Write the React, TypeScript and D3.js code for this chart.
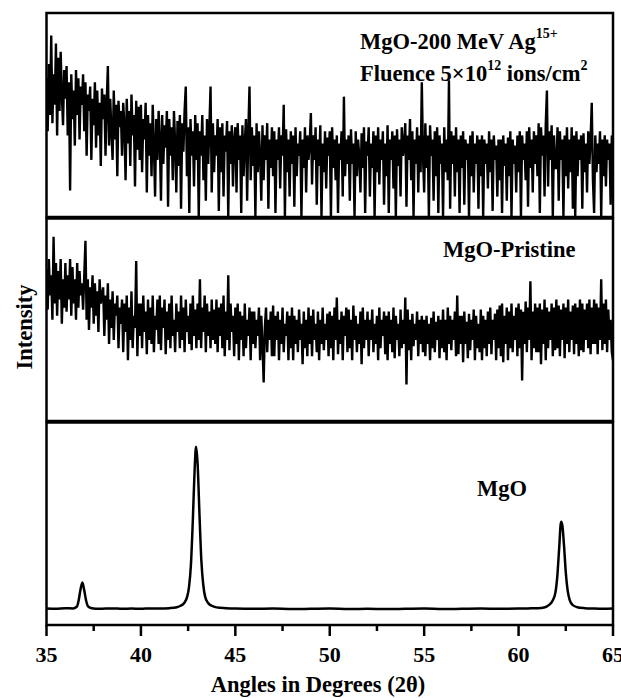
import React from "react";
import * as d3 from "d3";

// ---- Data (2θ in degrees, intensity in arbitrary units, 0–100 per panel) ----
const STEP = 0.0625;
const X_START = 35;

// MgO irradiated with 200 MeV Ag15+ (noisy, amorphous-like), 16 readings per degree
const irradiated: number[] = [
  68, 42, 75, 50, 89, 46, 70, 55, 85, 40, 78, 52, 81, 60, 45, 72,
  58, 74, 40, 66, 13, 70, 48, 62, 35, 72, 50, 68, 38, 64, 55, 70,
  42, 66, 30, 60, 52, 64, 28, 58, 45, 66, 34, 62, 40, 56, 25, 63,
  48, 60, 30, 56, 74, 35, 58, 42, 28, 62, 38, 55, 20, 57, 44, 52,
  30, 56, 45, 18, 58, 36, 52, 25, 60, 40, 50, 15, 57, 33, 54, 28,
  55, 22, 48, 38, 56, 12, 50, 30, 46, 20, 55, 35, 10, 48, 28, 52,
  38, 8, 50, 26, 45, 34, 52, 5, 48, 30, 44, 18, 52, 36, 12, 47,
  25, 50, 4, 46, 32, 52, 64, 20, 44, 2, 48, 30, 42, 15, 50, 28,
  46, 0, 42, 30, 50, 18, 40, 8, 48, 26, 44, 64, 12, 46, 22, 40,
  30, 48, 3, 44, 22, 46, 10, 40, 32, 47, 0, 42, 26, 45, 15, 38,
  44, 12, 46, 28, 40, 2, 45, 20, 36, 48, 8, 42, 64, 18, 44, 25,
  40, 0, 46, 22, 42, 30, 8, 45, 18, 40, 28, 46, 4, 38, 24, 44,
  20, 42, 2, 38, 28, 44, 14, 40, 30, 55, 0, 43, 22, 38, 10, 42,
  26, 40, 5, 44, 20, 36, 30, 42, 0, 38, 24, 44, 12, 40, 28, 36,
  51, 16, 40, 28, 44, 6, 38, 25, 45, 0, 36, 22, 42, 14, 39, 30,
  42, 0, 44, 24, 38, 18, 40, 2, 36, 28, 42, 10, 59, 20, 38, 26,
  40, 8, 43, 26, 36, 0, 42, 20, 38, 30, 12, 41, 24, 44, 2, 37,
  30, 44, 10, 36, 24, 42, 0, 40, 22, 44, 16, 38, 28, 42, 6, 36,
  20, 45, 2, 38, 28, 42, 14, 40, 0, 43, 25, 38, 10, 44, 30, 36,
  46, 5, 40, 28, 48, 18, 42, 0, 38, 26, 44, 12, 40, 22, 66, 30,
  12, 46, 24, 40, 0, 45, 30, 38, 8, 42, 20, 44, 2, 40, 26, 36,
  0, 44, 22, 38, 18, 67, 4, 42, 26, 40, 10, 44, 22, 38, 2, 40,
  24, 42, 6, 38, 28, 36, 0, 40, 20, 42, 12, 36, 26, 40, 4, 38,
  20, 40, 0, 38, 26, 36, 14, 42, 22, 38, 3, 40, 28, 35, 10, 38,
  18, 38, 2, 40, 25, 36, 8, 39, 20, 42, 0, 38, 26, 35, 12, 40,
  22, 42, 0, 40, 28, 36, 18, 42, 5, 44, 24, 38, 12, 42, 26, 40,
  20, 46, 2, 44, 30, 40, 10, 45, 62, 15, 42, 28, 45, 0, 40, 24,
  24, 44, 8, 42, 28, 38, 0, 40, 20, 44, 14, 38, 22, 44, 4, 40,
  0, 42, 20, 38, 28, 40, 4, 41, 22, 36, 12, 42, 26, 38, 56, 18,
  2, 40, 22, 36, 26, 42, 0, 38, 20, 40, 15, 38, 28, 36, 6, 40,
  20,
];

// MgO pristine, 16 readings per degree
const pristine: number[] = [
  75, 55, 80, 62, 72, 50, 91, 58, 78, 52, 74, 60, 80, 48, 70, 56,
  78, 54, 72, 60, 80, 52, 76, 58, 70, 50, 78, 56, 74, 62, 68, 55,
  72, 89, 50, 70, 45, 66, 56, 72, 48, 68, 52, 64, 44, 70, 58, 62,
  66, 42, 62, 50, 68, 38, 60, 46, 64, 40, 58, 52, 62, 36, 56, 48,
  60, 34, 58, 44, 62, 30, 56, 40, 64, 36, 52, 46, 79, 32, 58, 42,
  58, 36, 62, 44, 54, 33, 60, 40, 56, 38, 62, 34, 52, 45, 60, 38,
  62, 35, 56, 46, 60, 33, 54, 40, 58, 36, 62, 42, 50, 34, 58, 44,
  54, 36, 62, 40, 56, 34, 60, 44, 52, 38, 58, 35, 62, 42, 55, 36,
  58, 40, 70, 36, 56, 44, 62, 34, 58, 42, 54, 36, 60, 40, 55, 38,
  60, 34, 56, 42, 58, 36, 62, 32, 54, 40, 72, 35, 58, 44, 52, 32,
  56, 38, 58, 30, 54, 40, 52, 32, 58, 36, 50, 42, 56, 30, 54, 38,
  54, 36, 50, 42, 56, 30, 52, 38, 19, 46, 56, 34, 50, 40, 54, 32,
  57, 32, 52, 40, 54, 30, 50, 38, 56, 34, 48, 42, 54, 30, 52, 36,
  56, 30, 52, 38, 50, 34, 55, 40, 48, 28, 54, 36, 50, 32, 56, 38,
  52, 32, 55, 40, 48, 34, 54, 30, 50, 38, 56, 35, 48, 40, 53, 32,
  54, 36, 52, 30, 56, 40, 61, 33, 50, 38, 54, 30, 52, 42, 56, 34,
  55, 36, 50, 30, 57, 40, 52, 34, 48, 38, 54, 28, 56, 36, 50, 40,
  54, 32, 50, 40, 55, 34, 48, 38, 52, 30, 56, 36, 50, 42, 54, 33,
  52, 30, 54, 38, 50, 34, 56, 31, 52, 40, 48, 32, 55, 36, 50, 38,
  61, 18, 55, 35, 50, 30, 53, 37, 48, 40, 54, 32, 50, 38, 52, 34,
  50, 32, 52, 38, 48, 30, 51, 36, 54, 34, 49, 40, 52, 31, 50, 36,
  55, 34, 50, 30, 56, 38, 52, 35, 50, 40, 54, 32, 62, 33, 52, 38,
  52, 29, 54, 38, 49, 31, 53, 35, 50, 40, 55, 30, 52, 36, 48, 34,
  55, 30, 52, 36, 50, 32, 54, 38, 56, 33, 50, 40, 53, 30, 55, 36,
  57, 32, 58, 29, 52, 38, 56, 30, 54, 36, 58, 34, 52, 40, 56, 32,
  58, 36, 55, 20, 54, 38, 59, 34, 56, 40, 69, 30, 54, 36, 58, 34,
  56, 34, 58, 28, 55, 38, 60, 30, 56, 36, 54, 40, 58, 32, 56, 35,
  60, 36, 57, 32, 55, 40, 58, 31, 56, 38, 60, 34, 54, 40, 57, 33,
  58, 38, 56, 32, 60, 35, 58, 34, 55, 40, 58, 36, 60, 33, 56, 38,
  60, 38, 58, 33, 56, 40, 70, 35, 58, 38, 60, 34, 55, 40, 50, 34,
  30,
];

// MgO reference (crystalline)
const mgoAngles: number[] = [
  35.0, 35.5, 36.0, 36.4, 36.6, 36.7, 36.8, 36.9, 37.0, 37.1, 37.2, 37.4, 37.8,
  38.5, 39.0, 39.5, 40.0, 40.5, 41.0, 41.5, 41.9, 42.1, 42.3, 42.45, 42.55,
  42.65, 42.75, 42.85, 42.92, 43.0, 43.1, 43.2, 43.3, 43.4, 43.55, 43.75, 44.0,
  44.5, 45.0, 46.0, 47.0, 48.0, 49.0, 50.0, 51.0, 52.0, 53.0, 54.0, 55.0, 56.0,
  57.0, 58.0, 59.0, 60.0, 60.5, 61.0, 61.4, 61.6, 61.8, 61.95, 62.05, 62.15,
  62.25, 62.32, 62.4, 62.5, 62.6, 62.7, 62.85, 63.1, 63.5, 64.0, 64.5, 65.0,
];
const mgoValues: number[] = [
  8.2, 8.0, 8.3, 8.2, 9.0, 12, 17.5, 21, 17, 12, 9.2, 8.3, 8.0,
  8.2, 8.0, 8.1, 8.0, 8.2, 8.1, 8.3, 8.8, 9.5, 11, 14, 19,
  30, 52, 78, 88, 80, 55, 32, 20, 14, 11, 9.5, 8.7,
  8.3, 8.1, 8.0, 8.1, 7.9, 8.0, 8.1, 7.9, 8.0, 7.9, 8.0, 8.1, 7.9,
  8.0, 8.1, 8.0, 8.1, 8.2, 8.3, 8.8, 9.8, 12, 16, 24, 38,
  51, 49, 40, 26, 17, 12.5, 10, 8.8, 8.3, 8.1, 8.0, 8.1,
];

const xTicks: number[] = [35, 40, 45, 50, 55, 60, 65];
const xMinorTicks: number[] = [37.5, 42.5, 47.5, 52.5, 57.5, 62.5];

// ---- Layout ----
const W = 621;
const H = 698;
const LEFT = 46.5;
const RIGHT = 613;
const panels = [
  { top: 13, bottom: 217 },
  { top: 218.5, bottom: 421 },
  { top: 422.5, bottom: 625 },
];
const FONT = "'Liberation Serif', 'Times New Roman', serif";

export default function App() {
  const x = d3.scaleLinear().domain([35, 65]).range([LEFT, RIGHT]);
  const yFor = (i: number) =>
    d3.scaleLinear().domain([0, 100]).range([panels[i].bottom, panels[i].top]);

  const y0 = yFor(0);
  const y1 = yFor(1);
  const y2 = yFor(2);

  const series0 = irradiated.map((v, i) => [X_START + i * STEP, v] as [number, number]);
  const series1 = pristine.map((v, i) => [X_START + i * STEP, v] as [number, number]);
  const series2 = mgoAngles.map((a, i) => [a, mgoValues[i]] as [number, number]);

  const mk = (ys: d3.ScaleLinear<number, number>) =>
    d3
      .line<[number, number]>()
      .x((d) => x(d[0]))
      .y((d) => ys(d[1]))
      .curve(d3.curveLinear);

  const mkSmooth = (ys: d3.ScaleLinear<number, number>) =>
    d3
      .line<[number, number]>()
      .x((d) => x(d[0]))
      .y((d) => ys(d[1]))
      .curve(d3.curveMonotoneX);

  const axisY = panels[2].bottom;

  return (
    <svg
      width={W}
      height={H}
      style={{ position: "absolute", left: 0, top: 0, background: "#fff" }}
      fontFamily={FONT}
      fontWeight="bold"
    >
      <defs>
        {panels.map((p, i) => (
          <clipPath id={`clip${i}`} key={i}>
            <rect x={LEFT} y={p.top} width={RIGHT - LEFT} height={p.bottom - p.top} />
          </clipPath>
        ))}
      </defs>

      {/* data */}
      <g clipPath="url(#clip0)">
        <path d={mk(y0)(series0) || ""} fill="none" stroke="#000" strokeWidth={2.4} />
      </g>
      <g clipPath="url(#clip1)">
        <path d={mk(y1)(series1) || ""} fill="none" stroke="#000" strokeWidth={2.4} />
      </g>
      <g clipPath="url(#clip2)">
        <path d={mkSmooth(y2)(series2) || ""} fill="none" stroke="#000" strokeWidth={2.5} />
      </g>

      {/* frames */}
      {panels.map((p, i) => (
        <rect
          key={i}
          x={LEFT}
          y={p.top}
          width={RIGHT - LEFT}
          height={p.bottom - p.top}
          fill="none"
          stroke="#000"
          strokeWidth={2.5}
        />
      ))}

      {/* x axis ticks */}
      {xTicks.map((t) => (
        <g key={t}>
          <line x1={x(t)} x2={x(t)} y1={axisY} y2={axisY + 11} stroke="#000" strokeWidth={2.5} />
          <text x={x(t)} y={662} textAnchor="middle" fontSize={22}>
            {t}
          </text>
        </g>
      ))}
      {xMinorTicks.map((t) => (
        <line key={t} x1={x(t)} x2={x(t)} y1={axisY} y2={axisY + 6} stroke="#000" strokeWidth={2.5} />
      ))}

      {/* axis titles */}
      <text x={318} y={692} textAnchor="middle" fontSize={22.5}>
        Angles in Degrees (2θ)
      </text>
      <text transform="translate(32,327) rotate(-90)" textAnchor="middle" fontSize={22.5}>
        Intensity
      </text>

      {/* labels */}
      <text x={360} y={49} fontSize={22.5}>
        MgO-200 MeV Ag
        <tspan fontSize={14} dy={-11}>15+</tspan>
      </text>
      <text x={360} y={81} fontSize={22.5}>
        Fluence 5×10
        <tspan fontSize={14} dy={-11}>12</tspan>
        <tspan dy={11}> ions/cm</tspan>
        <tspan fontSize={14} dy={-11}>2</tspan>
      </text>
      <text x={443} y={257} fontSize={22.5}>
        MgO-Pristine
      </text>
      <text x={477} y={496} fontSize={22.5}>
        MgO
      </text>
    </svg>
  );
}
